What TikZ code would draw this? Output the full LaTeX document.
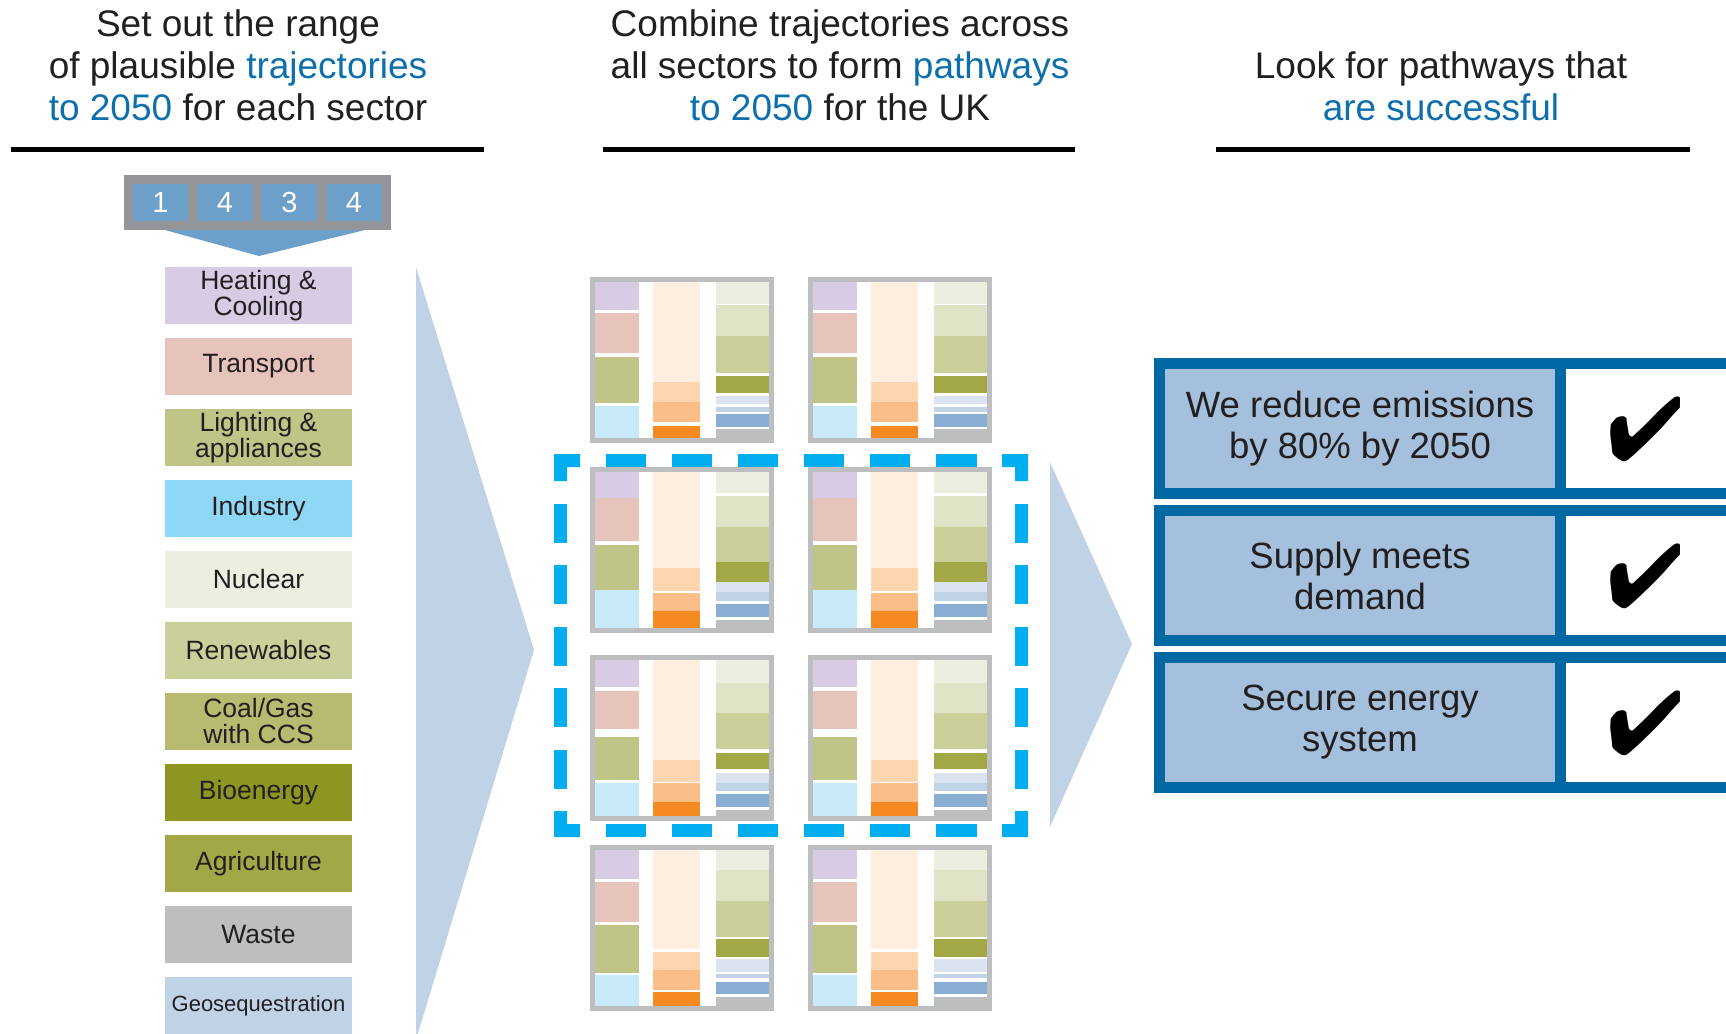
\documentclass[tikz,border=0pt]{standalone}
\usepackage{fontspec}
\setmainfont{Liberation Sans}
\usepackage{pifont}

% palette
\definecolor{ink}{HTML}{231F20}
\definecolor{accent}{HTML}{0E6FAD}
\definecolor{numgrey}{HTML}{939598}
\definecolor{numblue}{HTML}{6C9FC9}
\definecolor{chev}{HTML}{C0D3E6}
\definecolor{dashblue}{HTML}{00AEEF}
\definecolor{panelframe}{HTML}{0068A2}
\definecolor{panelin}{HTML}{A4C0DC}
\definecolor{frame}{HTML}{BDBEC0}
% sector colours
\definecolor{sHeat}{HTML}{D8CCE5}
\definecolor{sTrans}{HTML}{E7C4BB}
\definecolor{sLight}{HTML}{C0C486}
\definecolor{sInd}{HTML}{8FD8F5}
\definecolor{sNuc}{HTML}{ECEFDF}
\definecolor{sRen}{HTML}{CBD09B}
\definecolor{sCcs}{HTML}{B8BA70}
\definecolor{sBio}{HTML}{8E9520}
\definecolor{sAgr}{HTML}{A3A846}
\definecolor{sWaste}{HTML}{BDBEC0}
\definecolor{sGeo}{HTML}{BFD2E6}
% bar colours
\definecolor{lav}{HTML}{D8CCE5}
\definecolor{pink}{HTML}{E7C4BB}
\definecolor{olive}{HTML}{C0C486}
\definecolor{lblue}{HTML}{C7E9F8}
\definecolor{peach}{HTML}{FEEEDF}
\definecolor{lor}{HTML}{FDD6B0}
\definecolor{ortwo}{HTML}{FBBE88}
\definecolor{orng}{HTML}{F58A22}
\definecolor{ca}{HTML}{ECEFDF}
\definecolor{cb}{HTML}{E0E3C6}
\definecolor{cc}{HTML}{CBD09B}
\definecolor{cd}{HTML}{A2A845}
\definecolor{ce}{HTML}{DCE3F0}
\definecolor{cf}{HTML}{C0D3E7}
\definecolor{cg}{HTML}{8AAED3}
\definecolor{gr}{HTML}{BDBEC0}

\newcommand\hl[1]{\textcolor{accent}{#1}}

% one column of stacked bars: left x, right x, list colour/top/bottom
\newcommand\barstack[3]{%
  \foreach \col/\ya/\yb in #3 {\fill[\col] (#1,\ya) rectangle (#2,\yb);}}

% a small trajectory chart with its top-left corner at (#1,#2)
\newcommand\trajchart[5]{%
  \begin{scope}[shift={(#1,#2)}]
    \fill[frame] (0,0) rectangle (184,166);
    \fill[white] (5,5) rectangle (179,161);
    \barstack{5}{49}{#3}
    \barstack{63}{110}{#4}
    \barstack{126}{179}{#5}
  \end{scope}}

% bar stacks for each row of charts
\newcommand\colAi{lav/5/33,pink/36/76,olive/80/126,lblue/129/161}
\newcommand\colBi{peach/5/105,lor/105/125,ortwo/125/145,orng/149/161}
\newcommand\colCi{ca/5/27,cb/28/59,cc/59/96,cd/99/116,ce/119/127,cf/130/135,cg/137/150,gr/152/161}
\newcommand\colAii{lav/5/31,pink/31/74,olive/78/123,lblue/123/161}
\newcommand\colBii{peach/5/101,lor/101/124,ortwo/126/144,orng/144/161}
\newcommand\colCii{ca/5/26,cb/29/60,cc/60/95,cd/95/115,ce/115/125,cf/125/134,cg/137/150,gr/153/161}
\newcommand\colAiii{lav/5/32,pink/36/74,olive/82/125,lblue/128/161}
\newcommand\colBiii{peach/5/105,lor/105/127,ortwo/128/147,orng/147/161}
\newcommand\colCiii{ca/5/28,cb/28/58,cc/58/94,cd/98/114,ce/118/128,cf/128/136,cg/139/152,gr/155/161}
\newcommand\colAiv{lav/5/34,pink/37/77,olive/80/128,lblue/130/161}
\newcommand\colBiv{peach/5/104,lor/107/125,ortwo/125/145,orng/147/161}
\newcommand\colCiv{ca/5/25,cb/25/56,cc/56/92,cd/94/112,ce/114/127,cf/129/133,cg/137/149,gr/152/161}

\tikzset{
  title/.style={align=center, inner sep=0pt, text=ink, font=\fontsize{37}{42}\selectfont},
  headrule/.style={line width=5pt, black},
  sector/.style={minimum width=187pt, minimum height=57pt, inner sep=0pt, align=center,
    text=ink, font=\fontsize{26.5}{26}\selectfont},
  numcell/.style={fill=numblue, minimum width=55pt, minimum height=37pt, inner sep=0pt,
    text=white, font=\fontsize{29}{29}\selectfont},
  goal/.style={fill=panelin, minimum width=390pt, minimum height=119pt, inner sep=0pt,
    align=center, text=ink, font=\fontsize{36.5}{41}\selectfont},
  tick/.style={inner sep=0pt, text=black, font=\fontsize{90}{90}\selectfont},
  dashpiece/.style={fill=dashblue},
}

\begin{document}
\begin{tikzpicture}[x=1pt, y=-1pt]
\useasboundingbox (0,0) rectangle (1726,1033);

% ---- headings (base anchor sits on the last line)
\node[title, anchor=base] (head1) at (238,120)
  {Set out the range\\of plausible \hl{trajectories}\\\hl{to 2050} for each sector};
\node[title, anchor=base] (head2) at (840,120)
  {Combine trajectories across\\all sectors to form \hl{pathways}\\\hl{to 2050} for the UK};
\node[title, anchor=base] (head3) at (1441,120)
  {Look for pathways that\\\hl{are successful}};
\draw[headrule] (11,149) -- (484,149);
\draw[headrule] (603,149) -- (1075,149);
\draw[headrule] (1216,149) -- (1690,149);

% ---- trajectory selector
\fill[numgrey] (124,175) rectangle (391,230);
\node[numcell] (n1) at (160.5,202.5) {1};
\node[numcell] (n2) at (225,202.5) {4};
\node[numcell] (n3) at (289.5,202.5) {3};
\node[numcell] (n4) at (354,202.5) {4};
\fill[numblue] (165,230) -- (365,230) -- (259,256) -- cycle;

% ---- sectors
\node[sector, fill=sHeat]  (heat)  at (258.5,295.5) {Heating \&\\Cooling};
\node[sector, fill=sTrans] (trans) at (258.5,366.5) {Transport};
\node[sector, fill=sLight] (light) at (258.5,437.5) {Lighting \&\\appliances};
\node[sector, fill=sInd]   (ind)   at (258.5,508.5) {Industry};
\node[sector, fill=sNuc]   (nuc)   at (258.5,579.5) {Nuclear};
\node[sector, fill=sRen]   (ren)   at (258.5,650.5) {Renewables};
\node[sector, fill=sCcs]   (ccs)   at (258.5,721.5) {Coal/Gas\\with CCS};
\node[sector, fill=sBio]   (bio)   at (258.5,792.5) {Bioenergy};
\node[sector, fill=sAgr]   (agr)   at (258.5,863.5) {Agriculture};
\node[sector, fill=sWaste] (waste) at (258.5,934.5) {Waste};
\node[sector, fill=sGeo, font=\fontsize{22}{22}\selectfont] (geo) at (258.5,1005.5) {Geosequestration};

% ---- big chevrons
\fill[chev] (416,267) -- (534,650) -- (416,1040) -- cycle;
\fill[chev] (1050,462) -- (1132,644) -- (1050,827) -- cycle;

% ---- dashed selection frame
\foreach \xs in {605.6,671.7,737.8,803.8,869.9,936.0} {
  \fill[dashpiece] (\xs,454) rectangle ++(40.5,13);
  \fill[dashpiece] (\xs,824) rectangle ++(40.5,13);
}
\foreach \ys in {503.5,565,626.5,688,749.5} {
  \fill[dashpiece] (554,\ys) rectangle ++(13,39);
  \fill[dashpiece] (1015,\ys) rectangle ++(13,39);
}
\fill[dashpiece] (554,454) -- (580,454) -- (580,467) -- (567,467) -- (567,481) -- (554,481) -- cycle;
\fill[dashpiece] (1028,454) -- (1002,454) -- (1002,467) -- (1015,467) -- (1015,481) -- (1028,481) -- cycle;
\fill[dashpiece] (554,837) -- (580,837) -- (580,824) -- (567,824) -- (567,811) -- (554,811) -- cycle;
\fill[dashpiece] (1028,837) -- (1002,837) -- (1002,824) -- (1015,824) -- (1015,811) -- (1028,811) -- cycle;

% ---- pathway charts
\trajchart{590}{277}{\colAi}{\colBi}{\colCi}
\trajchart{808}{277}{\colAi}{\colBi}{\colCi}
\trajchart{590}{467}{\colAii}{\colBii}{\colCii}
\trajchart{808}{467}{\colAii}{\colBii}{\colCii}
\trajchart{590}{655}{\colAiii}{\colBiii}{\colCiii}
\trajchart{808}{655}{\colAiii}{\colBiii}{\colCiii}
\trajchart{590}{845}{\colAiv}{\colBiv}{\colCiv}
\trajchart{808}{845}{\colAiv}{\colBiv}{\colCiv}

% ---- success criteria
\fill[panelframe] (1154,358) rectangle (1726,499);
\fill[panelframe] (1154,505) rectangle (1726,646);
\fill[panelframe] (1154,652) rectangle (1726,793);
\fill[white] (1566,369) rectangle (1726,488);
\fill[white] (1566,516) rectangle (1726,635);
\fill[white] (1566,663) rectangle (1726,782);
\node[goal] (g1) at (1360,428.5) {We reduce emissions\\by 80\% by 2050};
\node[goal] (g2) at (1360,575.5) {Supply meets\\demand};
\node[goal] (g3) at (1360,722.5) {Secure energy\\system};
\node[tick] (k1) at (1646,429.5) {\ding{52}};
\node[tick] (k2) at (1646,576.5) {\ding{52}};
\node[tick] (k3) at (1646,723.5) {\ding{52}};
\end{tikzpicture}
\end{document}
